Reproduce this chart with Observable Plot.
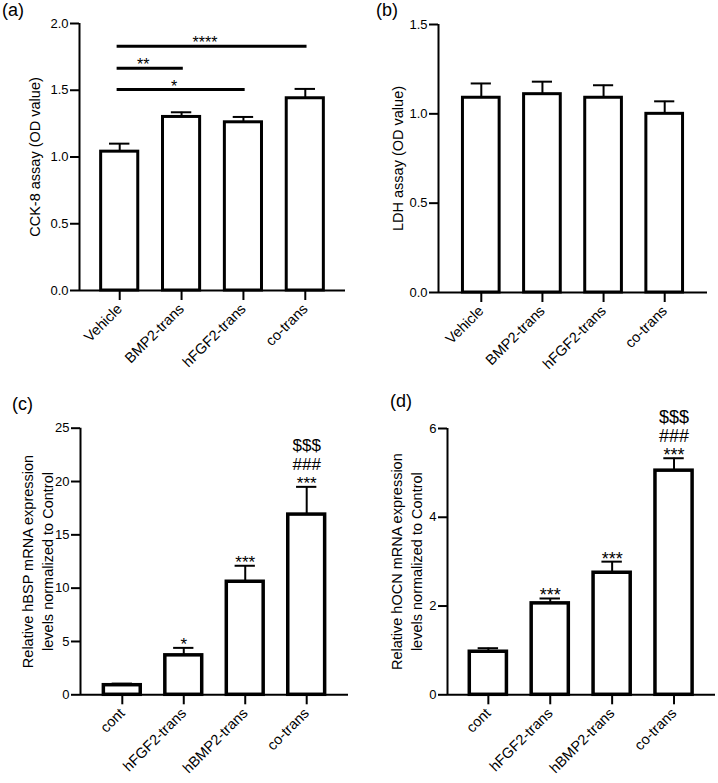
<!DOCTYPE html>
<html><head><meta charset="utf-8">
<script src="https://cdn.jsdelivr.net/npm/d3@7"></script>
<script src="https://cdn.jsdelivr.net/npm/@observablehq/plot@0.6"></script>
<style>
body{margin:0;background:#fff;}
#fig{position:relative;width:718px;height:783px;font-family:"Liberation Sans",Arial,sans-serif;color:#000;}
.panel{position:absolute;}
.plab{position:absolute;font-size:18px;line-height:1;}
</style></head><body><div id="fig"></div>
<script>
// ---- data ----
const catsA = ["Vehicle", "BMP2-trans", "hFGF2-trans", "co-trans"];
const cckMean = [1.04, 1.30, 1.26, 1.44];
const cckErr = [1.10, 1.335, 1.30, 1.51];
const cckSigFrom = [0, 0, 0];
const cckSigTo = [3, 1, 2];
const cckSigY = [1.83, 1.665, 1.505];
const cckSigLabel = ["****", "**", "*"];
const cckTicks = [0, 0.5, 1.0, 1.5, 2.0];

const catsB = ["Vehicle", "BMP2-trans", "hFGF2-trans", "co-trans"];
const ldhMean = [1.09, 1.11, 1.09, 1.00];
const ldhErr = [1.17, 1.18, 1.16, 1.07];
const ldhTicks = [0, 0.5, 1.0, 1.5];

const catsC = ["cont", "hFGF2-trans", "hBMP2-trans", "co-trans"];
const bspMean = [0.9, 3.7, 10.6, 16.9];
const bspErr = [1.05, 4.4, 12.1, 19.5];
const bspSig = ["", "*", "***", "$$$\n###\n***"];
const bspTicks = [0, 5, 10, 15, 20, 25];

const catsD = ["cont", "hFGF2-trans", "hBMP2-trans", "co-trans"];
const ocnMean = [0.97, 2.06, 2.75, 5.05];
const ocnErr = [1.05, 2.17, 3.00, 5.33];
const ocnSig = ["", "***", "***", "$$$\n###\n***"];
const ocnTicks = [0, 2, 4, 6];

const panelLabels = ["(a)", "(b)", "(c)", "(d)"];
const yLabels = [
  "CCK-8 assay (OD value)",
  "LDH assay (OD value)",
  "Relative hBSP mRNA expression\nlevels normalized to Control",
  "Relative hOCN mRNA expression\nlevels normalized to Control"
];

// ---- drawing ----
const FONT = "Liberation Sans, Arial, sans-serif";
const fig = document.getElementById("fig");

function rows(cats, mean, err) {
  return cats.map((c, i) => ({i, c, v: mean[i], e: err[i]}));
}

function panel(opt) {
  const data = rows(opt.cats, opt.mean, opt.err);
  const ymax = opt.ticks[opt.ticks.length - 1];
  const marks = [
    // axis lines
    Plot.ruleY([0], {stroke: "black", strokeWidth: 2}),
    Plot.ruleX([opt.xdomain[0]], {y1: 0, y2: ymax, stroke: "black", strokeWidth: 2}),
    Plot.axisY({ticks: opt.ticks, tickFormat: opt.tickFormat, tickSize: 9, tickPadding: 2,
      fontSize: 13, strokeWidth: 2, label: null}),
    Plot.axisX({ticks: d3.range(opt.cats.length), tickFormat: i => opt.cats[i], tickSize: 10,
      tickPadding: 6, tickRotate: -45, fontSize: 14.5, strokeWidth: 2, label: null}),
    // error bars (upper only)
    Plot.ruleX(data, {x: "i", y1: "v", y2: "e", stroke: "black", strokeWidth: 2}),
    Plot.ruleY(data, {y: "e", x1: d => d.i - 0.165, x2: d => d.i + 0.165, stroke: "black", strokeWidth: 2}),
    // bars
    Plot.rectY(data, {x1: d => d.i - 0.3, x2: d => d.i + 0.3, y: "v", fill: "white",
      stroke: "black", strokeWidth: opt.barStroke, strokeLinejoin: "miter"}),
    // y label
    Plot.text([opt.ylabel], {frameAnchor: "left", rotate: -90, dx: opt.ylabelDx, fontSize: 14.5,
      lineHeight: 1.38, textAnchor: "middle", fill: "black"}),
    ...(opt.extra || [])
  ];
  const svg = Plot.plot({
    width: opt.width, height: opt.height,
    marginLeft: opt.ml, marginRight: opt.mr, marginTop: opt.mt, marginBottom: opt.mb,
    style: {fontFamily: FONT, color: "black", background: "transparent", overflow: "visible"},
    x: {type: "linear", domain: opt.xdomain, axis: null},
    y: {domain: [0, ymax], axis: null},
    marks
  });
  const div = document.createElement("div");
  div.className = "panel";
  div.style.left = opt.left + "px";
  div.style.top = opt.top + "px";
  div.appendChild(svg);
  fig.appendChild(div);
}

function annot(err, sig, fs, lh, dy) {
  const d = err.map((e, i) => ({i, e, s: sig[i]}));
  return [
    Plot.text(d, {x: "i", y: "e", text: "s", fontSize: fs, lineAnchor: "bottom", lineHeight: lh, dy, fill: "black"})
  ];
}

const sigData = cckSigFrom.map((f, k) => ({f, t: cckSigTo[k], y: cckSigY[k], mid: (f + cckSigTo[k]) / 2, lab: cckSigLabel[k]}));

panel({
  cats: catsA, mean: cckMean, err: cckErr, ticks: cckTicks, tickFormat: d3.format(".1f"),
  xdomain: [-0.65, 3.65], width: 359, height: 390, left: 0, top: 0,
  ml: 79, mr: 14, mt: 23, mb: 100, barStroke: 3, ylabel: yLabels[0], ylabelDx: -46,
  extra: [
    Plot.link(sigData, {x1: d => d.f - 0.05, x2: d => d.t + 0.02, y1: "y", y2: "y", stroke: "black", strokeWidth: 3}),
    Plot.text(sigData, {x: d => d.mid - 0.12, y: "y", text: "lab", fontSize: 16, letterSpacing: 2, lineAnchor: "bottom", dy: 2, fill: "black"})
  ]
});

panel({
  cats: catsB, mean: ldhMean, err: ldhErr, ticks: ldhTicks, tickFormat: d3.format(".1f"),
  xdomain: [-0.7, 3.7], width: 359, height: 390, left: 359, top: 0,
  ml: 79, mr: 11, mt: 24, mb: 98, barStroke: 3, ylabel: yLabels[1], ylabelDx: -42
});

panel({
  cats: catsC, mean: bspMean, err: bspErr, ticks: bspTicks, tickFormat: d3.format("d"),
  xdomain: [-0.68, 3.68], width: 359, height: 393, left: 0, top: 390,
  ml: 80, mr: 11, mt: 37.7, mb: 88.7, barStroke: 3.5, ylabel: yLabels[2], ylabelDx: -43.5,
  extra: annot(bspErr, bspSig, 17, 1.1, 2)
});

panel({
  cats: catsD, mean: ocnMean, err: ocnErr, ticks: ocnTicks, tickFormat: d3.format("d"),
  xdomain: [-0.66, 3.67], width: 359, height: 393, left: 359, top: 390,
  ml: 88, mr: 3, mt: 38, mb: 88.7, barStroke: 3.5, ylabel: yLabels[3], ylabelDx: -41.5,
  extra: annot(ocnErr, ocnSig, 18, 1.07, 3)
});

const labPos = [[2, 1], [376, 1], [12, 395], [390, 392]];
panelLabels.forEach((t, k) => {
  const d = document.createElement("div");
  d.className = "plab";
  d.textContent = t;
  d.style.left = labPos[k][0] + "px";
  d.style.top = labPos[k][1] + "px";
  fig.appendChild(d);
});
</script></body></html>
